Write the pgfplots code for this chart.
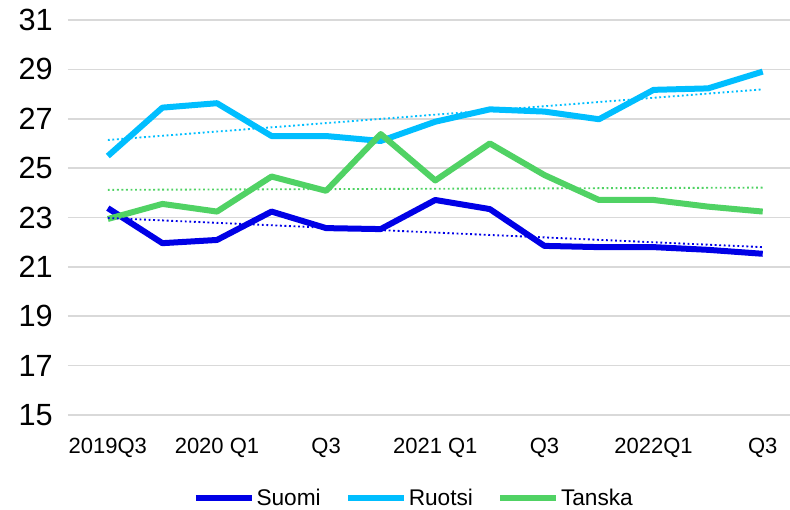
\documentclass[border=0pt]{standalone}
\usepackage{pgfplots}
\pgfplotsset{compat=1.18}
\usepackage{fontspec}
\setmainfont{Liberation Sans}
\definecolor{suomi}{RGB}{0,0,230}
\definecolor{ruotsi}{RGB}{0,190,255}
\definecolor{tanska}{RGB}{80,210,100}
\definecolor{gridc}{RGB}{217,217,217}
\begin{document}
\begin{tikzpicture}
\path[use as bounding box] (-51pt,-71.25pt) rectangle (541.5pt,311.25pt);
\begin{axis}[
  at={(0,0)}, anchor=south west,
  scale only axis, width=541.5pt, height=296.25pt,
  xmin=-0.73, xmax=12.5, ymin=15, ymax=31,
  ytick={15,17,...,31},
  xtick={0,2,4,6,8,10,12},
  xticklabels={2019Q3,2020 Q1,Q3,2021 Q1,Q3,2022Q1,Q3},
  axis line style={draw=none},
  major tick length=0pt,
  ymajorgrids, grid style={gridc, line width=1.3pt},
  /pgf/number format/assume math mode=true,
  yticklabel style={font=\fontsize{23}{25}\selectfont, xshift=-8pt},
  xticklabel style={font=\fontsize{16.5}{18}\selectfont, yshift=-13.5pt},
  legend style={at={(259.5pt,-62.25pt)}, anchor=center, draw=none, legend columns=3,
    font=\fontsize{17}{19}\selectfont, nodes={inner sep=1.5pt},
    /tikz/every even column/.append style={column sep=17pt}},
  legend image code/.code={\draw[#1, line width=4pt] (0pt,0pt) -- (42pt,0pt);},
  every axis plot/.append style={line join=round},
]
\addplot[suomi, line width=4.5pt] coordinates {(0,23.38)(1,21.96)(2,22.09)(3,23.24)(4,22.57)(5,22.53)(6,23.71)(7,23.34)(8,21.85)(9,21.80)(10,21.80)(11,21.69)(12,21.53)};
\addlegendentry{Suomi}
\addplot[ruotsi, line width=4.5pt] coordinates {(0,25.49)(1,27.45)(2,27.63)(3,26.30)(4,26.30)(5,26.10)(6,26.88)(7,27.38)(8,27.29)(9,26.98)(10,28.17)(11,28.23)(12,28.91)};
\addlegendentry{Ruotsi}
\addplot[tanska, line width=4.5pt] coordinates {(0,22.94)(1,23.55)(2,23.24)(3,24.66)(4,24.08)(5,26.38)(6,24.50)(7,26.00)(8,24.72)(9,23.71)(10,23.71)(11,23.44)(12,23.24)};
\addlegendentry{Tanska}
\addplot[suomi, line width=1.4pt, dotted, forget plot] coordinates {(0,22.98)(12,21.80)};
\addplot[ruotsi, line width=1.4pt, dotted, forget plot] coordinates {(0,26.14)(12,28.19)};
\addplot[tanska, line width=1.4pt, dotted, forget plot] coordinates {(0,24.12)(12,24.21)};
\end{axis}
\end{tikzpicture}
\end{document}
